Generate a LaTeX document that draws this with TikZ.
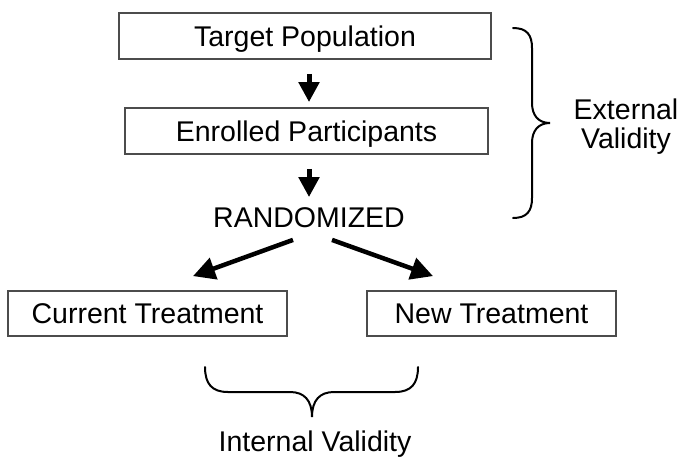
\documentclass[tikz,border=0pt]{standalone}
\usepackage{fontspec}
\setmainfont{Liberation Sans}
\usetikzlibrary{arrows.meta}
\begin{document}
\begin{tikzpicture}[x=1pt,y=-1pt,
  every node/.style={font=\fontsize{28.5}{29.5}\selectfont, inner sep=0pt},
  stepbox/.style={draw=black!70, line width=1.8pt, text height=20.4pt, text depth=0pt},
  arr/.style={line width=5pt, -{Triangle[width=20pt,length=20pt]}},
  darr/.style={line width=4.5pt, -{Triangle[width=22pt,length=22pt]}},
  brace/.style={line width=2pt, line cap=round}]
\useasboundingbox (0,0) rectangle (679,458);
\node[stepbox, minimum width=372pt, minimum height=46pt] (tp) at (305,36) {Target Population};
\node[stepbox, minimum width=363pt, minimum height=46pt] (ep) at (306.5,131) {Enrolled Participants};
\node[text height=20.4pt, text depth=0pt] (rnd) at (309,217.5) {RANDOMIZED};
\node[stepbox, minimum width=279pt, minimum height=45pt] (cur) at (147.5,313.5) {Current Treatment};
\node[stepbox, minimum width=249pt, minimum height=45pt] (new) at (491.5,313.5) {New Treatment};
\node[align=center] (ext) at (626,126.4) {External\\Validity};
\node[anchor=base] (int) at (315,451.5) {Internal Validity};
\draw[arr, shorten <=14pt, shorten >=5pt] (tp.south -| rnd.center) -- (ep.north -| rnd.center);
\draw[arr, shorten <=14pt, shorten >=10pt] (ep.south -| rnd.center) -- (rnd.north);
\draw[darr] ([xshift=-16pt,yshift=-12pt]rnd.south) -- ([xshift=45.5pt,yshift=14pt]cur.north);
\draw[darr] ([xshift=23pt,yshift=-12pt]rnd.south) -- ([xshift=-58.5pt,yshift=14pt]new.north);
\draw[brace] (513,28) .. controls (527,28) and (532,35) .. (532,48) -- (532,103) .. controls (532,115) and (538,123) .. (550,123) .. controls (538,123) and (532,131) .. (532,143) -- (532,198) .. controls (532,211) and (527,218) .. (513,218);
\draw[brace] (205,367) .. controls (205,384) and (212,392) .. (228,392) -- (290,392) .. controls (304,392) and (312,400) .. (312,417) .. controls (312,400) and (320,392) .. (334,392) -- (395,392) .. controls (411,392) and (418,384) .. (418,367);
\end{tikzpicture}
\end{document}
